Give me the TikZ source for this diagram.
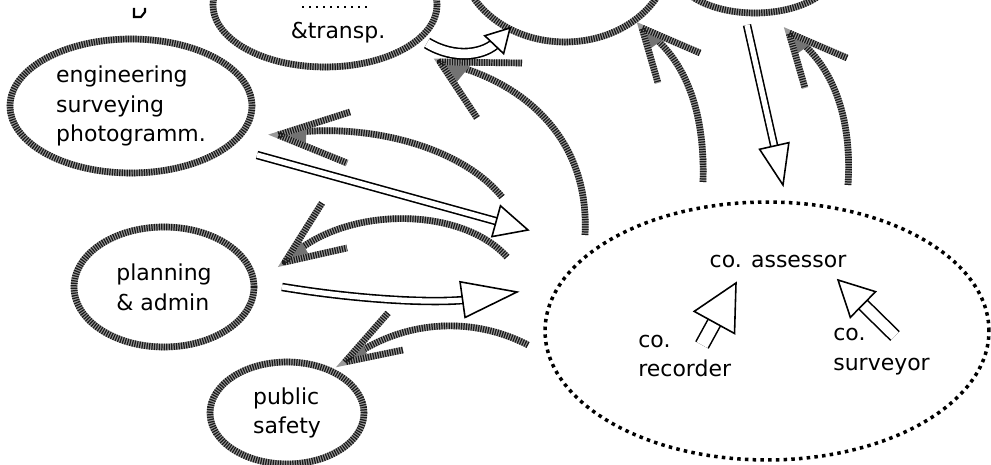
\documentclass[tikz,border=0pt]{standalone}
\usepackage{fontspec}
\setmainfont{DejaVu Sans}
\usetikzlibrary{shapes.geometric,calc}
\tikzset{
  chk/.style={line width=3.8pt, draw=black!90, dash pattern=on 0.7pt off 0.7pt,
    preaction={draw=black!40, line width=3.8pt, solid}},
  grayarrow/.style={chk, line join=round},
  blob/.style={ellipse, chk, inner sep=0pt},
  dotring/.style={ellipse, draw, line width=2pt, dash pattern=on 2pt off 2.4pt},
  hshaft/.style={draw, line width=0.9pt, double=white, double distance=3pt},
  hhead/.style={draw, line width=0.9pt, fill=white, line join=miter},
  lbl/.style={font=\fontsize{12.5}{17}\selectfont, align=left, inner sep=0pt},
}
% open arrow head: tip, point it comes from, length, half width
\newcommand\hollowhead[4]{%
  \filldraw[hhead] (#1) -- ($($(#1)!#3!(#2)$)!#4!90:(#1)$)
    -- ($($(#1)!#3!(#2)$)!#4!-90:(#1)$) -- cycle;}
% gray head: tip, offsets of its two barbs
\newcommand\grayhead[3]{%
  \fill[black!55] (#1) -- ($(#1)!0.4!($(#1)+(#2)$)$) -- ($(#1)!0.4!($(#1)+(#3)$)$) -- cycle;
  \draw[grayarrow] ($(#1)+(#2)$) -- (#1) -- ($(#1)+(#3)$);}
\begin{document}
\begin{tikzpicture}[x=0.02cm, y=-0.02cm]
  \useasboundingbox (0,0) rectangle (991,465);
  \clip (0,0) rectangle (991,465);
  % bits of text cut off at the top
  \draw[line width=1.2pt] (134,8) -- (134,17) -- (141,17) -- (145,12) -- (145,8);
  \draw[line width=1pt, dash pattern=on 1pt off 3pt] (302,7) -- (372,7);
  % offices
  \node[blob, minimum width=4.48cm, minimum height=2.48cm] (transp) at (325,5) {};
  \node[lbl] (transptxt) at (338,33) {\&transp.};
  \node[blob, minimum width=4.2cm, minimum height=3.48cm] (topmid) at (565,-45) {};
  \node[blob, minimum width=3.2cm, minimum height=1.72cm] (topright) at (755,-30) {};
  \node[blob, minimum width=4.84cm, minimum height=2.68cm] (eng) at (131,106)
       [lbl] {engineering\\surveying\\photogramm.};
  \node[blob, minimum width=3.6cm, minimum height=2.4cm] (plan) at (164,287)
       [lbl] {planning\\\& admin};
  \node[blob, minimum width=3.08cm, minimum height=2.04cm] (safety) at (287,413)
       [lbl] {public\\safety};
  % county offices
  \node[dotring, minimum width=8.88cm, minimum height=5.16cm] (county) at (767,331) {};
  \node[lbl] (assessor) at (778,262) {co. assessor};
  \node[lbl, anchor=west] (recorder) at (638,356) {co.\\recorder};
  \node[lbl, anchor=west] (surveyor) at (833,352) {co.\\surveyor};
  % gray arrows back to the offices
  \coordinate (aTip) at (440,62);  \coordinate (aEnd) at (585,235);
  \draw[grayarrow] (aEnd) .. controls (590,140) and (525,80) .. (aTip);
  \grayhead{aTip}{82,1}{37,56}
  \coordinate (bTip) at (642,28);  \coordinate (bEnd) at (703,182);
  \draw[grayarrow] (bEnd) .. controls (705,120) and (690,60) .. (bTip);
  \grayhead{bTip}{58,25}{16,55}
  \coordinate (dTip) at (789,33);  \coordinate (dEnd) at (848,185);
  \draw[grayarrow] (dEnd) .. controls (852,125) and (837,65) .. (dTip);
  \grayhead{dTip}{58,25}{16,55}
  \coordinate (eTip) at (278,135); \coordinate (eEnd) at (502,197);
  \draw[grayarrow] (eEnd) .. controls (460,145) and (360,120) .. (eTip);
  \grayhead{eTip}{72,-23}{69,28}
  \coordinate (gTip) at (285,262); \coordinate (gEnd) at (507,257);
  \draw[grayarrow] (gEnd) .. controls (460,205) and (340,205) .. (gTip);
  \grayhead{gTip}{37,-59}{62,-14}
  \coordinate (iTip) at (345,362); \coordinate (iEnd) at (528,345);
  \draw[grayarrow] (iEnd) .. controls (470,315) and (400,320) .. (iTip);
  \grayhead{iTip}{43,-49}{58,-12}
  % open arrows into the county
  \coordinate (tTail) at (427,43); \coordinate (tTip) at (510,28);
  \draw[hshaft, double distance=5pt, shorten >=0.36cm] (tTail) .. controls (455,60) and (485,55) .. (tTip);
  \hollowhead{tTip}{492,47}{0.46cm}{0.26cm}
  \coordinate (cTail) at (747,25); \coordinate (cTip) at (783,185);
  \draw[hshaft, shorten >=0.7cm] (cTail) -- (cTip);
  \hollowhead{cTip}{cTail}{0.8cm}{0.3cm}
  \coordinate (fTail) at (257,155); \coordinate (fTip) at (528,230);
  \draw[hshaft, shorten >=0.56cm] (fTail) -- (fTip);
  \hollowhead{fTip}{fTail}{0.66cm}{0.32cm}
  \coordinate (hTail) at (282,287); \coordinate (hTip) at (517,292);
  \draw[hshaft, shorten >=0.9cm] (hTail) .. controls (360,300) and (440,304) .. (hTip);
  \hollowhead{hTip}{460,300}{1.1cm}{0.36cm}
  \coordinate (rTail) at (702,345); \coordinate (rTip) at (736,283);
  \draw[hshaft, double distance=7pt, shorten >=0.8cm] (rTail) -- (rTip);
  \hollowhead{rTip}{rTail}{0.9cm}{0.46cm}
  \coordinate (sTail) at (895,336); \coordinate (sTip) at (838,280);
  \draw[hshaft, double distance=6pt, shorten >=0.6cm] (sTail) -- (sTip);
  \hollowhead{sTip}{sTail}{0.7cm}{0.36cm}
\end{tikzpicture}
\end{document}
